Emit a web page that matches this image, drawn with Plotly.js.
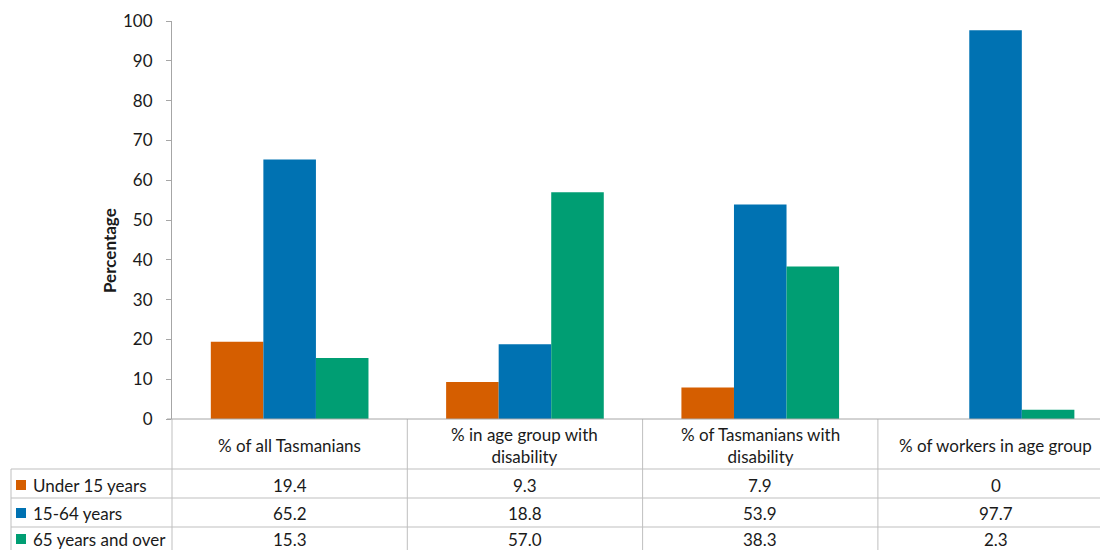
<!DOCTYPE html>
<html>
<head>
<meta charset="utf-8">
<script src="https://cdn.plot.ly/plotly-3.0.1.min.js"></script>
<style>
html,body{margin:0;padding:0;overflow:hidden;background:#fff;}
#chart{width:1100px;height:550px;}
</style>
</head>
<body>
<div id="chart"></div>
<script>
var categories = ["% of all Tasmanians", "% in age group with<br>disability", "% of Tasmanians with<br>disability", "% of workers in age group"];
var seriesNames = ["Under 15 years", "15-64 years", "65 years and over"];
var under15 = [19.4, 9.3, 7.9, 0];
var age15to64 = [65.2, 18.8, 53.9, 97.7];
var age65plus = [15.3, 57.0, 38.3, 2.3];
var tableText = [["19.4", "9.3", "7.9", "0"], ["65.2", "18.8", "53.9", "97.7"], ["15.3", "57.0", "38.3", "2.3"]];
var colors = ["#D55E00", "#0072B2", "#009E73"];

var W = 1100, H = 550, L = 172, T = 21, B = 131;
var plotW = W - L, plotH = H - T - B;
var catW = 235.3;
var r0 = -0.5, r1 = r0 + plotW / catW;
function px(x) { return (x - L) / plotW; }
function py(y) { return (H - B - y) / plotH; }
function cx(i) { return (i - r0) / (r1 - r0); }

var FONT = "Lato, 'Open Sans', sans-serif";
var txtColor = "#1a1a1a";
var lineColor = "#bfbfbf";
var TS = 17;

var seriesVals = [under15, age15to64, age65plus];
var traces = seriesVals.map(function (v, k) {
  return {
    type: "bar",
    x: [0, 1, 2, 3],
    y: v,
    name: seriesNames[k],
    marker: { color: colors[k] },
    hoverinfo: "y"
  };
});

var shapes = [];
var annotations = [];
var rowLines = [469, 498, 527];
rowLines.forEach(function (y) {
  shapes.push({ type: "line", xref: "paper", yref: "paper", x0: px(11), x1: 1, y0: py(y), y1: py(y), line: { color: lineColor, width: 1 } });
});
shapes.push({ type: "line", xref: "paper", yref: "paper", x0: px(11), x1: px(11), y0: py(469), y1: py(552), line: { color: lineColor, width: 1 } });
[ -0.5, 0.5, 1.5, 2.5 ].forEach(function (b) {
  shapes.push({ type: "line", xref: "paper", yref: "paper", x0: cx(b), x1: cx(b), y0: 0, y1: py(552), line: { color: lineColor, width: 1 } });
});

categories.forEach(function (c, i) {
  annotations.push({ xref: "paper", yref: "paper", x: cx(i), y: py(445), text: c, showarrow: false, xanchor: "center", yanchor: "middle", font: { family: FONT, size: TS, color: txtColor } });
});
var rowY = [485, 513, 539];
seriesNames.forEach(function (n, k) {
  shapes.push({ type: "rect", xref: "paper", yref: "paper", x0: px(16), x1: px(26), y0: py(rowY[k] - 5), y1: py(rowY[k] + 5), fillcolor: colors[k], line: { width: 0 } });
  annotations.push({ xref: "paper", yref: "paper", x: px(31), y: py(rowY[k]), text: n, showarrow: false, xanchor: "left", yanchor: "middle", font: { family: FONT, size: TS, color: txtColor } });
  tableText[k].forEach(function (t, i) {
    annotations.push({ xref: "paper", yref: "paper", x: cx(i), y: py(rowY[k]), text: t, showarrow: false, xanchor: "center", yanchor: "middle", font: { family: FONT, size: TS, color: txtColor } });
  });
});
annotations.push({ xref: "paper", yref: "paper", x: px(110), y: py(251), text: "<b>Percentage</b>", textangle: -90, showarrow: false, xanchor: "center", yanchor: "middle", font: { family: FONT, size: 17, color: txtColor } });

var layout = {
  width: W, height: H,
  margin: { l: L, r: 0, t: T, b: B, pad: 0 },
  barmode: "group",
  bargap: 0.33,
  bargroupgap: 0,
  showlegend: false,
  paper_bgcolor: "#fff",
  plot_bgcolor: "#fff",
  xaxis: { range: [r0, r1], showticklabels: false, ticks: "", showgrid: false, zeroline: false, showline: false, fixedrange: true },
  yaxis: {
    range: [0, 100], dtick: 10, tick0: 0, showgrid: false, zeroline: false,
    showline: true, linecolor: "#a6a6a6", linewidth: 1,
    ticks: "outside", ticklen: 5, tickcolor: "#a6a6a6",
    ticklabelstandoff: 10,
    tickfont: { family: FONT, size: 17, color: txtColor }, fixedrange: true
  },
  shapes: shapes.concat([{ type: "line", xref: "paper", yref: "paper", x0: px(167), x1: 1, y0: 0, y1: 0, line: { color: "#a6a6a6", width: 1 } }]),
  annotations: annotations
};

Plotly.newPlot("chart", traces, layout, { displayModeBar: false, staticPlot: true });
</script>
</body>
</html>
